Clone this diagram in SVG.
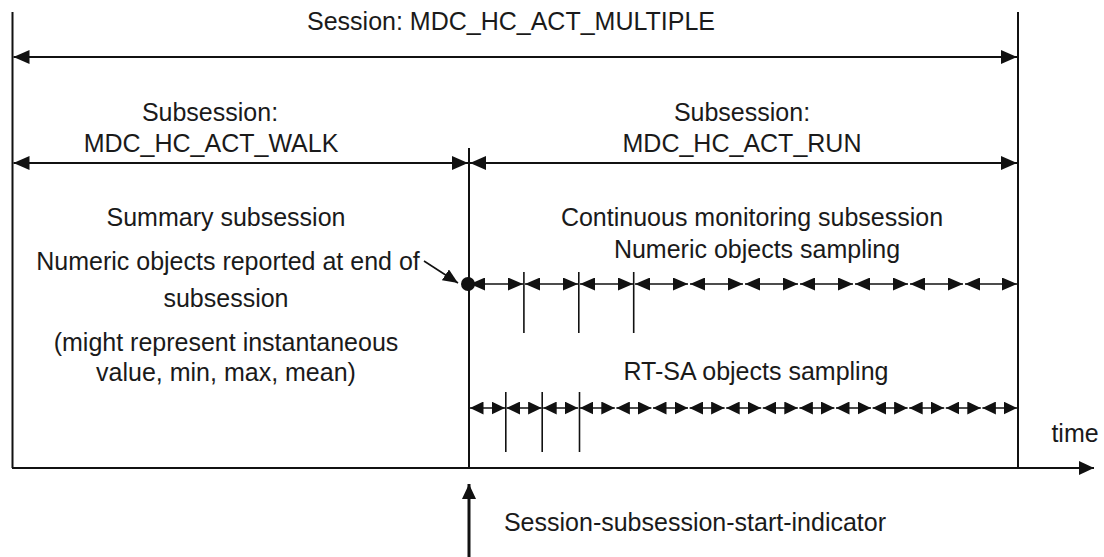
<svg xmlns="http://www.w3.org/2000/svg" width="1104" height="557" viewBox="0 0 1104 557">
<style>
text{font-family:"Liberation Sans",Arial,sans-serif;font-size:25px;fill:#1a1a1a;text-anchor:middle}
.ln{stroke:#111;stroke-width:2;fill:none}
.big{stroke:#111;stroke-width:2;fill:none;marker-start:url(#hB);marker-end:url(#hB)}
.num{stroke:#111;stroke-width:1.6;fill:none;marker-start:url(#hN);marker-end:url(#hN)}
.rt{stroke:#111;stroke-width:1.6;fill:none;marker-start:url(#hR);marker-end:url(#hR)}
.tk{stroke:#111;stroke-width:1.6}
</style>
<defs>
<marker id="hB" viewBox="0 0 10 10" refX="10" refY="5" markerUnits="userSpaceOnUse" markerWidth="16" markerHeight="14" preserveAspectRatio="none" orient="auto-start-reverse"><path d="M0,0L10,5L0,10z" fill="#111"/></marker>
<marker id="hN" viewBox="0 0 10 10" refX="10" refY="5" markerUnits="userSpaceOnUse" markerWidth="15" markerHeight="13" preserveAspectRatio="none" orient="auto-start-reverse"><path d="M0,0L10,5L0,10z" fill="#111"/></marker>
<marker id="hR" viewBox="0 0 10 10" refX="10" refY="5" markerUnits="userSpaceOnUse" markerWidth="13.5" markerHeight="13" preserveAspectRatio="none" orient="auto-start-reverse"><path d="M0,0L10,5L0,10z" fill="#111"/></marker>
<marker id="hT" viewBox="0 0 10 10" refX="10" refY="5" markerUnits="userSpaceOnUse" markerWidth="15" markerHeight="14" preserveAspectRatio="none" orient="auto"><path d="M0,0L10,5L0,10z" fill="#111"/></marker>
</defs>
<rect width="1104" height="557" fill="#fff"/>
<g id="connectors">
<line class="ln" x1="12.5" y1="12" x2="12.5" y2="468"/>
<line class="ln" x1="1018" y1="12" x2="1018" y2="468"/>
<line class="ln" x1="469" y1="148" x2="469" y2="468"/>
<line class="big" x1="13.5" y1="57" x2="1017" y2="57"/>
<line class="big" x1="13.5" y1="163" x2="468" y2="163"/>
<line class="big" x1="470" y1="163" x2="1017" y2="163"/>
<line stroke="#111" stroke-width="2" x1="12" y1="468" x2="1094" y2="468" marker-end="url(#hT)"/>
<line stroke="#111" stroke-width="3" x1="469" y1="557" x2="469" y2="484" marker-end="url(#hT)"/>
<line stroke="#111" stroke-width="1.6" x1="424" y1="261" x2="458" y2="283" marker-end="url(#hN)"/>
<g id="numeric-sampling">
<line class="num" x1="470" y1="284" x2="523" y2="284"/>
<line class="num" x1="525" y1="284" x2="578" y2="284"/>
<line class="num" x1="580" y1="284" x2="633" y2="284"/>
<line class="num" x1="635" y1="284" x2="688" y2="284"/>
<line class="num" x1="690" y1="284" x2="743" y2="284"/>
<line class="num" x1="745" y1="284" x2="798" y2="284"/>
<line class="num" x1="800" y1="284" x2="853" y2="284"/>
<line class="num" x1="855" y1="284" x2="908" y2="284"/>
<line class="num" x1="910" y1="284" x2="963" y2="284"/>
<line class="num" x1="965" y1="284" x2="1017" y2="284"/>
<line class="tk" x1="523.9" y1="272" x2="523.9" y2="333"/>
<line class="tk" x1="578.8" y1="272" x2="578.8" y2="333"/>
<line class="tk" x1="633.7" y1="272" x2="633.7" y2="333"/>
<circle cx="468" cy="284" r="7" fill="#111"/>
</g>
<g id="rtsa-sampling">
<line class="rt" x1="470" y1="408" x2="505" y2="408"/>
<line class="rt" x1="506.6" y1="408" x2="541.6" y2="408"/>
<line class="rt" x1="543.2" y1="408" x2="578.2" y2="408"/>
<line class="rt" x1="579.8" y1="408" x2="614.8" y2="408"/>
<line class="rt" x1="616.4" y1="408" x2="651.4" y2="408"/>
<line class="rt" x1="653" y1="408" x2="688" y2="408"/>
<line class="rt" x1="689.6" y1="408" x2="724.6" y2="408"/>
<line class="rt" x1="726.2" y1="408" x2="761.2" y2="408"/>
<line class="rt" x1="762.8" y1="408" x2="797.8" y2="408"/>
<line class="rt" x1="799.4" y1="408" x2="834.4" y2="408"/>
<line class="rt" x1="836" y1="408" x2="871" y2="408"/>
<line class="rt" x1="872.6" y1="408" x2="907.6" y2="408"/>
<line class="rt" x1="909.2" y1="408" x2="944.2" y2="408"/>
<line class="rt" x1="945.8" y1="408" x2="980.8" y2="408"/>
<line class="rt" x1="982.4" y1="408" x2="1017" y2="408"/>
<line class="tk" x1="505.8" y1="392" x2="505.8" y2="452"/>
<line class="tk" x1="542.2" y1="392" x2="542.2" y2="452"/>
<line class="tk" x1="579.5" y1="392" x2="579.5" y2="452"/>
</g>
</g>
<g id="session-label"><text x="511" y="30">Session: MDC_HC_ACT_MULTIPLE</text></g>
<g id="walk-label"><text x="210" y="121">Subsession:</text><text x="211" y="152">MDC_HC_ACT_WALK</text></g>
<g id="run-label"><text x="742" y="121">Subsession:</text><text x="742" y="152">MDC_HC_ACT_RUN</text></g>
<g id="summary"><text x="226" y="226">Summary subsession</text><text x="228" y="270">Numeric objects reported at end of</text><text x="226" y="307">subsession</text><text x="226" y="351">(might represent instantaneous</text><text x="226" y="381">value, min, max, mean)</text></g>
<g id="continuous"><text x="752" y="226">Continuous monitoring subsession</text><text x="757" y="258">Numeric objects sampling</text></g>
<g id="rtsa-label"><text x="756" y="380">RT-SA objects sampling</text></g>
<g id="time-label"><text x="1075" y="442">time</text></g>
<g id="indicator-label"><text x="695" y="531">Session-subsession-start-indicator</text></g>
</svg>
